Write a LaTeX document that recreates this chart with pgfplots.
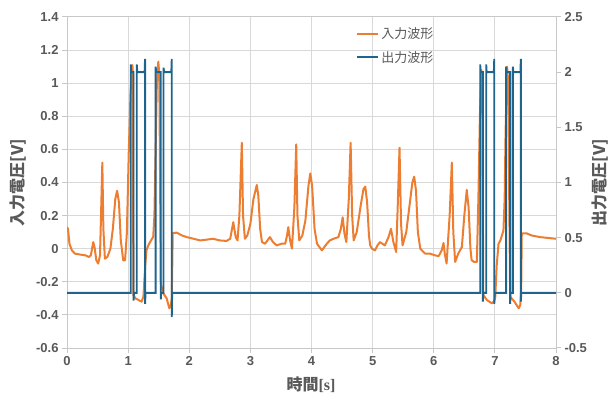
\documentclass[border=0pt]{standalone}
\usepackage{pgfplots}
\pgfplotsset{compat=1.18}
\usepackage{fontspec}
\setmainfont{Liberation Sans}
\newfontfamily\cjk{Noto Sans CJK JP}
\newfontfamily\serifs{Liberation Serif}
\definecolor{inorange}{HTML}{ED7D31}
\definecolor{outblue}{HTML}{1F648D}
\definecolor{gridgray}{HTML}{D9D9D9}
\definecolor{axgray}{HTML}{C8C8C8}
\definecolor{txtgray}{HTML}{595959}
\begin{document}
\begin{tikzpicture}
\path[use as bounding box] (0,0) rectangle (616bp,399bp);
\begin{axis}[
 at={(67bp,51bp)}, anchor=south west,
 scale only axis, width=489bp, height=331bp,
 xmin=0, xmax=8, ymin=-0.6, ymax=1.4,
 xtick={0,1,2,3,4,5,6,7,8},
 xticklabels={0,1,2,3,4,5,6,7,8},
 ytick={-0.6,-0.4,-0.2,0,0.2,0.4,0.6,0.8,1,1.2,1.4},
 yticklabels={-0.6,-0.4,-0.2,0,0.2,0.4,0.6,0.8,1,1.2,1.4},
 xmajorgrids, ymajorgrids,
 grid style={gridgray, line width=1bp},
 axis line style={axgray, line width=1bp},
 tick style={axgray, line width=1bp},
 tick align=outside, major tick length=5bp,
 xtick pos=bottom, ytick pos=left,
 ticklabel style={font=\bfseries\fontsize{13bp}{15bp}\selectfont, text=txtgray},
 /pgf/number format/assume math mode=true,
 xlabel={{\cjk\bfseries 時間}{\serifs\bfseries [s]}},
 xlabel style={at={(axis description cs:0.499,-0.112)}, anchor=center, font=\fontsize{16bp}{18bp}\selectfont, text=txtgray},
 ylabel={\cjk\bfseries 入力電圧[V]},
 ylabel style={at={(axis description cs:-0.1,0.5)}, anchor=center, font=\fontsize{16bp}{18bp}\selectfont, text=txtgray},
]
\addplot[inorange, line width=2bp, line join=round] table {
0.000 0.13
0.016 0.12
0.04 0.03
0.08 -0.01
0.13 -0.03
0.21 -0.035
0.30 -0.04
0.36 -0.05
0.39 -0.04
0.41 0.00
0.43 0.04
0.45 0.01
0.48 -0.07
0.51 -0.09
0.54 -0.04
0.56 0.25
0.578 0.52
0.595 0.12
0.62 -0.06
0.66 -0.05
0.71 0.00
0.75 0.12
0.79 0.30
0.82 0.35
0.85 0.28
0.88 0.05
0.92 -0.07
0.95 -0.07
0.98 0.10
1.01 0.58
1.04 0.95
1.07 1.11
1.08 1.05
1.085 -0.28
1.12 -0.30
1.17 -0.31
1.22 -0.32
1.25 -0.29
1.28 -0.10
1.30 -0.01
1.33 0.02
1.36 0.04
1.39 0.06
1.41 0.07
1.43 0.20
1.44 0.40
1.47 1.00
1.494 1.13
1.51 1.05
1.525 0.3
1.534 -0.21
1.576 -0.27
1.63 -0.30
1.674 -0.36
1.70 -0.34
1.714 -0.30
1.73 0.095
1.795 0.097
1.88 0.08
1.96 0.07
2.07 0.06
2.18 0.05
2.29 0.055
2.39 0.06
2.50 0.05
2.61 0.047
2.67 0.06
2.72 0.16
2.76 0.07
2.79 0.05
2.82 0.20
2.86 0.64
2.88 0.20
2.91 0.06
2.95 0.08
3.00 0.15
3.05 0.30
3.105 0.385
3.13 0.32
3.16 0.12
3.19 0.04
3.24 0.03
3.28 0.05
3.32 0.07
3.37 0.04
3.43 0.02
3.51 0.03
3.57 0.03
3.60 0.08
3.62 0.13
3.65 0.05
3.68 0.00
3.72 0.25
3.75 0.63
3.77 0.20
3.80 0.05
3.85 0.08
3.90 0.17
3.95 0.38
3.98 0.455
4.01 0.38
4.05 0.12
4.09 0.03
4.17 -0.01
4.25 0.03
4.30 0.05
4.36 0.06
4.44 0.07
4.48 0.12
4.51 0.19
4.54 0.09
4.57 0.04
4.61 0.30
4.64 0.64
4.665 0.20
4.69 0.05
4.74 0.10
4.80 0.25
4.85 0.36
4.88 0.375
4.91 0.28
4.94 0.08
4.96 0.02
4.99 0.00
5.04 -0.01
5.08 0.02
5.12 0.04
5.16 0.03
5.20 0.02
5.26 0.07
5.30 0.12
5.34 0.04
5.385 -0.02
5.41 0.25
5.44 0.61
5.465 0.15
5.49 0.02
5.55 0.10
5.60 0.25
5.65 0.40
5.68 0.435
5.71 0.35
5.74 0.10
5.78 0.00
5.86 -0.03
5.94 -0.03
6.02 -0.04
6.08 -0.045
6.13 -0.01
6.16 0.035
6.18 -0.03
6.21 -0.09
6.26 0.20
6.296 0.52
6.32 0.10
6.35 -0.08
6.40 -0.03
6.46 0.01
6.50 0.20
6.54 0.355
6.57 0.25
6.60 0.00
6.62 -0.07
6.66 -0.08
6.705 -0.08
6.73 0.30
6.755 0.80
6.78 1.08
6.795 1.00
6.81 -0.28
6.87 -0.31
6.95 -0.33
6.98 -0.32
7.005 -0.30
7.03 -0.10
7.06 0.03
7.09 0.05
7.14 0.11
7.16 0.30
7.175 0.70
7.20 1.10
7.22 1.00
7.235 0.3
7.25 -0.29
7.32 -0.32
7.39 -0.36
7.415 -0.34
7.43 -0.25
7.44 0.093
7.52 0.093
7.60 0.08
7.74 0.07
7.87 0.065
8.00 0.06
};
\end{axis}
\begin{axis}[
 at={(67bp,51bp)}, anchor=south west,
 scale only axis, width=489bp, height=331bp,
 xmin=0, xmax=8, ymin=-0.5, ymax=2.5,
 axis x line=none, axis y line*=right,
 ytick={-0.5,0,0.5,1,1.5,2,2.5},
 yticklabels={-0.5,0,0.5,1,1.5,2,2.5},
 axis line style={axgray, line width=1bp},
 tick style={axgray, line width=1bp},
 tick align=outside, major tick length=5bp,
 ticklabel style={font=\bfseries\fontsize{13bp}{15bp}\selectfont, text=txtgray},
 ylabel={\cjk\bfseries 出力電圧[V]},
 ylabel style={at={(axis description cs:1.09,0.5)}, anchor=center, font=\fontsize{16bp}{18bp}\selectfont, text=txtgray},
 legend style={draw=none, fill=none, at={(0.585,0.98)}, anchor=north west,
   font=\cjk\fontsize{13bp}{15bp}\selectfont, text=txtgray, row sep=7bp},
 legend cell align=left,
]
\addlegendimage{legend image code/.code={\draw[inorange, line width=2bp] (0bp,0bp) -- (21bp,0bp);}}
\addlegendentry{入力波形}
\addlegendimage{legend image code/.code={\draw[outblue, line width=2bp] (0bp,0bp) -- (21bp,0bp);}}
\addlegendentry{出力波形}
\addplot[outblue, line width=1.9bp, forget plot] table {
0 0
1.043 0
1.043 2.07
1.05 2.0
1.088 2.0
1.088 -0.07
1.095 0
1.141 0
1.141 2.07
1.15 2.0
1.27 2.0
1.277 2.12
1.277 -0.1
1.285 0
1.449 0
1.449 2.05
1.46 2.0
1.534 2.0
1.534 -0.06
1.54 0
1.579 0
1.579 2.04
1.59 2.0
1.707 2.0
1.714 2.12
1.714 -0.22
1.72 0
6.76 0
6.76 2.07
6.767 2.0
6.804 2.0
6.804 -0.08
6.81 0
6.858 0
6.858 2.07
6.865 2.0
6.983 2.0
6.99 2.12
6.99 -0.1
6.997 0
7.185 0
7.185 2.05
7.192 2.0
7.25 2.0
7.25 -0.1
7.257 0
7.295 0
7.295 2.05
7.302 2.0
7.418 2.0
7.425 2.12
7.425 -0.08
7.432 0
8 0
};
\end{axis}
\end{tikzpicture}
\end{document}
